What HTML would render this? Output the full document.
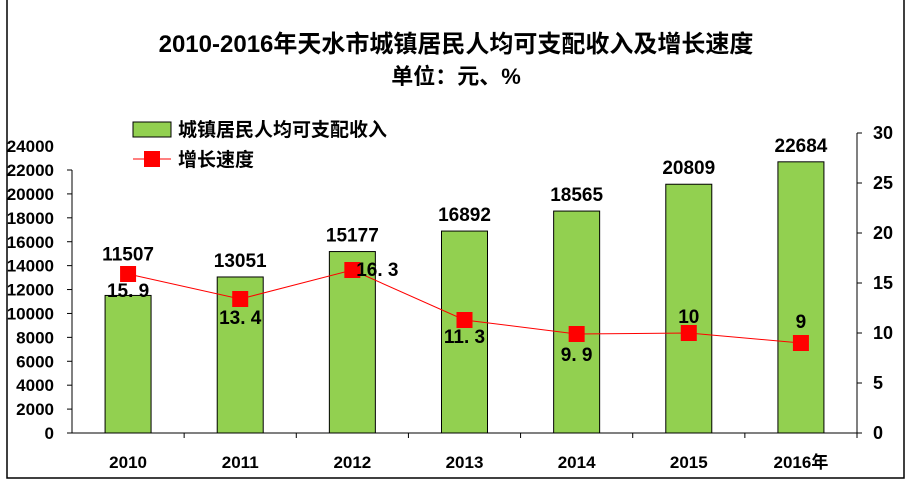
<!DOCTYPE html>
<html><head><meta charset="utf-8"><style>
html,body{margin:0;padding:0;background:#fff;}
svg text{font-family:"Liberation Sans","Noto Sans CJK SC",sans-serif;font-weight:bold;}
</style></head><body>
<svg id="chart" width="913" height="487" xmlns="http://www.w3.org/2000/svg">
<rect x="7" y="-2" width="897" height="480" fill="#fff" stroke="#000" stroke-width="1.5"/>
<text x="456" y="52" text-anchor="middle" font-size="24">2010-2016年天水市城镇居民人均可支配收入及增长速度</text>
<text x="456" y="84" text-anchor="middle" font-size="22">单位：元、%</text>
<g id="plot"></g>
<rect x="133" y="122" width="38" height="15" fill="#92d050" stroke="#000"/>
<text x="178" y="136" font-size="19">城镇居民人均可支配收入</text>
<line x1="133" y1="159" x2="171" y2="159" stroke="#f00"/>
<rect x="144" y="151" width="16" height="16" fill="#f00"/>
<text x="178" y="166" font-size="19">增长速度</text>
</svg>
<script>
const categories=["2010","2011","2012","2013","2014","2015","2016年"];
const income=[11507,13051,15177,16892,18565,20809,22684];
const growth=[15.9,13.4,16.3,11.3,9.9,10,9];
const growthLabels=["15. 9","13. 4","16. 3","11. 3","9. 9","10","9"];
const leftTicks=[0,2000,4000,6000,8000,10000,12000,14000,16000,18000,20000,22000,24000];
const rightTicks=[0,5,10,15,20,25,30];
const growthLabelOffsets=[[0,17],[0,19],[25,0],[0,17],[0,21],[0,-16],[0,-21]];
const barLabelExtra=[-25,0,0,0,0,0,0];

const NS="http://www.w3.org/2000/svg";
const g=document.getElementById('plot');
const X0=72,X1=857,Y0=433;
const bw=(X1-X0)/categories.length;
const xc=i=>X0+bw*(i+0.5);
const yL=v=>Y0-v*263/22000;
const yR=v=>Y0-v*10;
function mk(t,a){const e=document.createElementNS(NS,t);for(const k in a)e.setAttribute(k,a[k]);g.appendChild(e);return e;}

income.forEach((v,i)=>{
 const r=mk('rect',{x:xc(i)-23,y:yL(v),width:46,height:Y0-yL(v),fill:'#92d050',stroke:'#000','stroke-width':1});
 
 
 const t=mk('text',{x:xc(i),y:yL(v)-10+barLabelExtra[i],'text-anchor':'middle','font-size':19});
 t.textContent=v;
 
 
});
const la=mk('line',{x1:X0,y1:yL(22000),x2:X0,y2:Y0,stroke:'#000'});


const ra=mk('line',{x1:X1,y1:yR(30),x2:X1,y2:Y0,stroke:'#000'});


const xa=mk('line',{x1:X0,y1:Y0,x2:X1,y2:Y0,stroke:'#000'});


leftTicks.forEach(v=>{
 if(v<=22000)mk('line',{x1:X0-5,y1:yL(v),x2:X0,y2:yL(v),stroke:'#000'});
 const t=mk('text',{x:54,y:Y0-v*23.9/2000+6,'text-anchor':'end','font-size':17});
 t.textContent=v;
 
 
});
rightTicks.forEach(v=>{
 mk('line',{x1:X1,y1:yR(v),x2:X1+5,y2:yR(v),stroke:'#000'});
 const t=mk('text',{x:873,y:yR(v)+6,'font-size':18});
 t.textContent=v;
 
 
});
categories.forEach((c,i)=>{
 mk('line',{x1:X0+bw*(i+1),y1:Y0,x2:X0+bw*(i+1),y2:Y0+5,stroke:'#000'});
 const t=mk('text',{x:xc(i),y:468,'text-anchor':'middle','font-size':17});
 t.textContent=c;
 
 
});
const pl=mk('polyline',{points:growth.map((v,i)=>xc(i)+','+yR(v)).join(' '),fill:'none',stroke:'#f00','stroke-width':1});


growth.forEach((v,i)=>{
 const m=mk('rect',{x:xc(i)-8,y:yR(v)-8,width:16,height:16,fill:'#f00'});
 
 
 const t=mk('text',{x:xc(i)+growthLabelOffsets[i][0],y:yR(v)+growthLabelOffsets[i][1]+6,'text-anchor':'middle','font-size':19});
 t.textContent=growthLabels[i];
 
 
});
</script>
</body></html>
